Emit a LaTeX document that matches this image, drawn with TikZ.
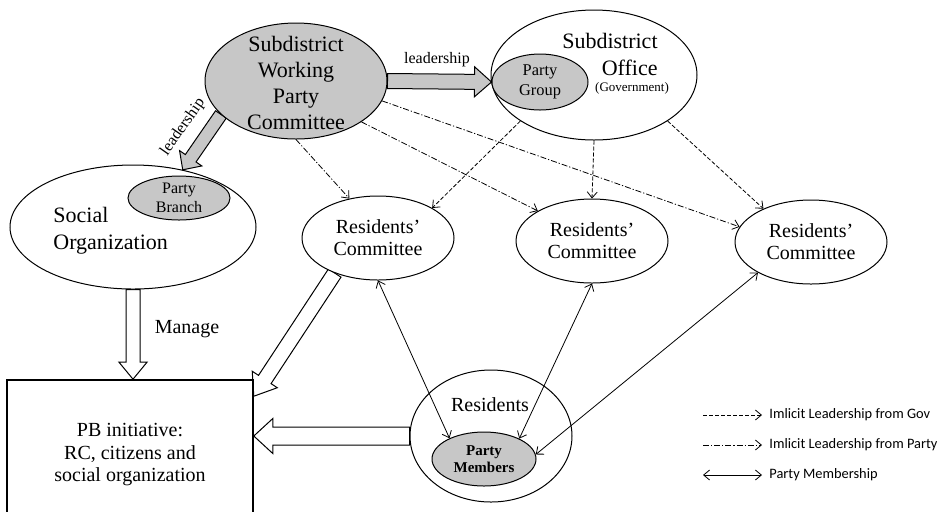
\documentclass[tikz,border=0pt]{standalone}
\usepackage{fontspec}
\setmainfont{Liberation Serif}
\newfontfamily\legendfont{Carlito}
\usetikzlibrary{shapes.geometric,calc,arrows.meta,backgrounds}
\newcommand{\fs}[2]{\fontsize{#1}{#2}\selectfont}
\tikzset{
  >={Straight Barb[length=3pt,width=5pt]},
  bubble/.style={ellipse,draw,line width=0.5pt,fill=white,inner sep=0pt,align=center},
  greybubble/.style={bubble,fill=black!22},
  govlead/.style={->,line width=0.4pt,dash pattern=on 2pt off 1pt},
  partylead/.style={->,line width=0.4pt,dash pattern=on 3pt off 1pt on 0.6pt off 1pt},
  member/.style={<->,line width=0.4pt},
  fatgrey/.style={draw,line width=0.5pt,fill=black!22},
  fatwhite/.style={draw,line width=0.5pt,fill=white},
  legtext/.style={font=\legendfont\fs{7.2}{9},anchor=west,inner sep=3.5pt}
}
% block arrow: [style]{from}{to}{half shaft}{half head}{head length}
\newcommand{\fatarrow}[6][]{%
  \path[#1] ($(#2)!#4!90:(#3)$)
    -- ($($(#3)!#6!(#2)$)!#4!90:(#3)$)
    -- ($($(#3)!#6!(#2)$)!#5!90:(#3)$)
    -- (#3)
    -- ($($(#3)!#6!(#2)$)!#5!-90:(#3)$)
    -- ($($(#3)!#6!(#2)$)!#4!-90:(#3)$)
    -- ($(#2)!#4!-90:(#3)$) -- cycle;%
}

\begin{document}
\begin{tikzpicture}[x=0.5pt,y=-0.5pt]
  \useasboundingbox (0,0) rectangle (948,511);

  % committee and government
  \node[greybubble,minimum width=91pt,minimum height=58pt] (swpc) at (296,81) {};
  \node[font=\fs{11}{13},align=center,inner sep=0pt] (swpctxt) at (296,83)
    {Subdistrict\\Working\\Party\\Committee};
  \node[bubble,minimum width=103pt,minimum height=65pt] (so) at (594,75) {};
  \node[font=\fs{11}{13.5},align=right,inner sep=0pt,anchor=east] (sotxt) at (658,54)
    {Subdistrict\\Office};
  \node[font=\fs{6.5}{8},inner sep=0pt] (sogov) at (632,88) {(Government)};
  \node[greybubble,minimum width=48pt,minimum height=28pt,font=\fs{8.2}{10}] (pgroup) at (540,82)
    {Party\\Group};

  % social organization
  \node[bubble,minimum width=123pt,minimum height=62pt] (socorg) at (133,227) {};
  \node[font=\fs{11}{13.5},align=left,inner sep=0pt,anchor=west] (orgtxt) at (53,231)
    {Social\\Organization};
  \node[greybubble,minimum width=51pt,minimum height=22pt,font=\fs{8}{9.5}] (pbranch) at (179,198)
    {Party\\Branch};

  % residents' committees
  \node[bubble,minimum width=76pt,minimum height=42pt,font=\fs{10}{11}] (rc1) at (378,238)
    {Residents'\\Committee};
  \node[bubble,minimum width=76pt,minimum height=42pt,font=\fs{10}{11}] (rc2) at (592,241)
    {Residents'\\Committee};
  \node[bubble,minimum width=76pt,minimum height=42pt,font=\fs{10}{11}] (rc3) at (811,242)
    {Residents'\\Committee};

  % residents
  \node[bubble,minimum width=81pt,minimum height=66pt] (res) at (491,436) {};
  \node[font=\fs{10}{12},inner sep=0pt] (restxt) at (490,405) {Residents};
  \node[greybubble,minimum width=52pt,minimum height=27pt,font=\bfseries\fs{7.5}{8.5}] (pm) at (484,459)
    {Party\\Members};

  % PB initiative
  \node[draw,line width=0.8pt,minimum width=123pt,minimum height=75pt,
    font=\fs{10}{11.25},align=center] (pb) at (130,455)
    {PB initiative:\\RC, citizens and\\social organization};

  % block arrows
  \coordinate (mtip) at (socorg.south |- pb.north);
  \coordinate (rctip) at ($(pb.north east)+(0,17)$);
  \coordinate (restip) at (res.west -| pb.east);
  \begin{pgfonlayer}{background}
    \fatarrow[fatgrey]{swpc.east}{pgroup.west}{3.75pt}{7.5pt}{8.5pt}
    \fatarrow[fatgrey]{swpc.204}{socorg.49}{3.25pt}{6.75pt}{7pt}
    \fatarrow[fatwhite]{socorg.south}{mtip}{3.5pt}{7pt}{8.5pt}
    \fatarrow[fatwhite]{rc1.219}{rctip}{3.75pt}{7.5pt}{10pt}
    \fatarrow[fatwhite]{res.west}{restip}{4.5pt}{8.75pt}{9.5pt}
  \end{pgfonlayer}
  \node[font=\fs{8}{9},inner sep=0pt] (lead1) at (437,60) {leadership};
  \node[font=\fs{8}{9},inner sep=0pt,rotate=55] (lead2) at (183,127) {leadership};
  \node[font=\fs{10}{12},inner sep=0pt] (manage) at (187,329) {Manage};

  % implicit leadership
  \draw[govlead] (so.212) -- (rc1.29);
  \draw[govlead] (so.south) -- (rc2.north);
  \draw[govlead] (so.-32) -- (rc3.145);
  \draw[partylead] (swpc.south) -- (rc1.126);
  \draw[partylead] (swpc.-32) -- (rc2.151);
  \draw[partylead] (swpc.-13) -- (rc3.168);

  % membership
  \draw[member] (rc1.south) -- (pm.149);
  \draw[member] (rc2.south) -- (pm.30);
  \draw[member] (rc3.210) -- (pm.5);

  % legend
  \coordinate (lg1) at (703,415);
  \coordinate (lg2) at (703,445);
  \coordinate (lg3) at (703,475);
  \node[legtext] (lgov) at (762,415) {Imlicit Leadership from Gov};
  \node[legtext] (lparty) at (762,445) {Imlicit Leadership from Party};
  \node[legtext] (lmember) at (762,475) {Party Membership};
  \draw[govlead] (lg1) -- (lgov.west);
  \draw[partylead] (lg2) -- (lparty.west);
  \draw[member] (lg3) -- (lmember.west);
\end{tikzpicture}
\end{document}
